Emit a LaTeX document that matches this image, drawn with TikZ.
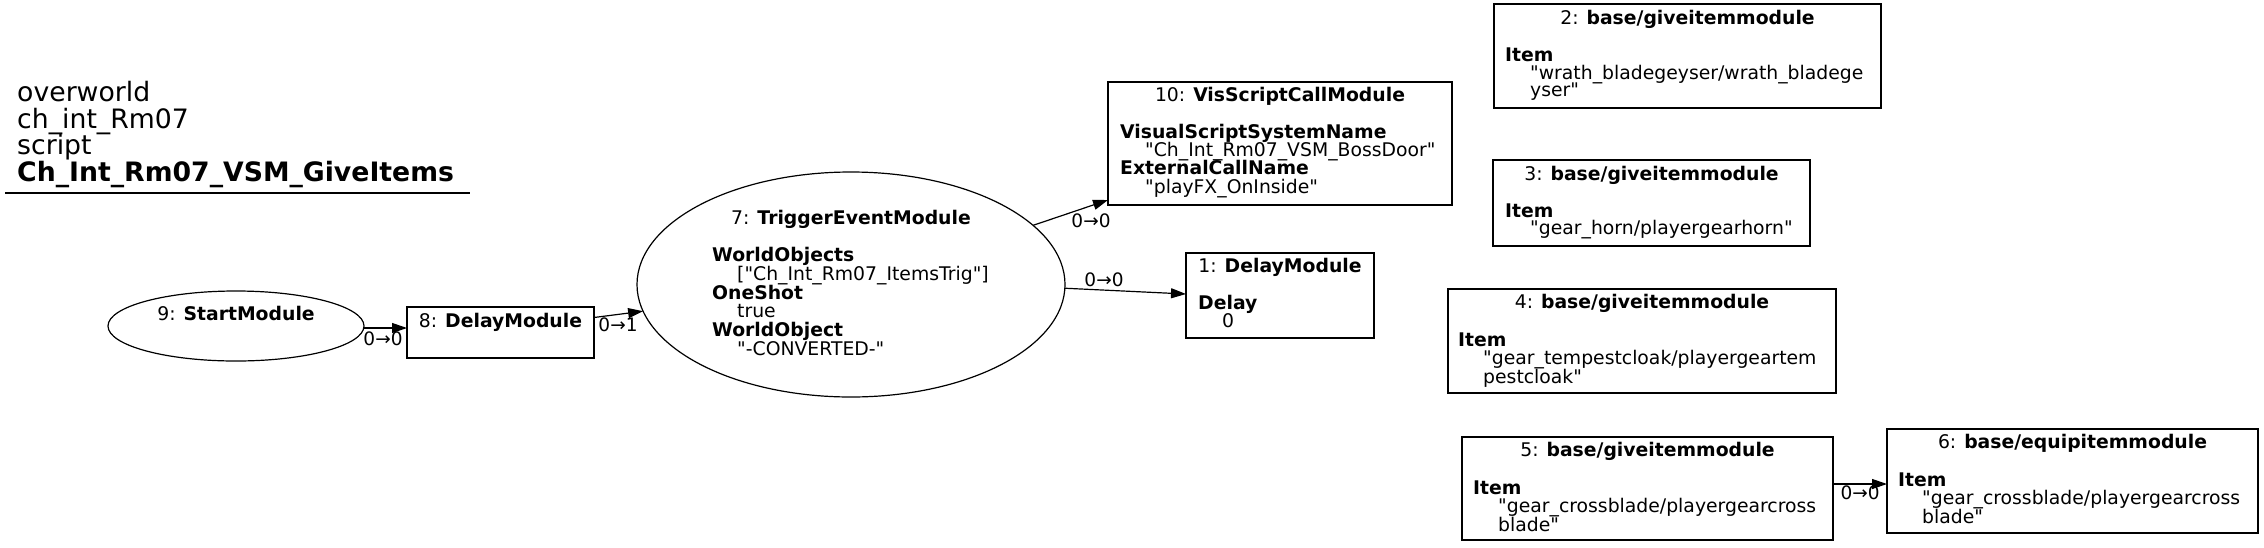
\documentclass[tikz,border=0pt]{standalone}
\usepackage{fontspec}
\setmainfont{DejaVu Sans}[Ligatures=TeXOff]
\usetikzlibrary{shapes.geometric,arrows.meta}
\begin{document}
\begin{tikzpicture}[x=1pt,y=-1pt,
 box/.style={draw, rectangle, inner sep=0, outer sep=0, line width=1.2pt},
 ell/.style={draw, ellipse, inner sep=0, outer sep=0, line width=1.2pt},
 tl/.style={inner sep=0, anchor=base west, font=\fontsize{18.8}{18.8}\selectfont},
 tc/.style={inner sep=0, anchor=base, font=\fontsize{18.8}{18.8}\selectfont},
 lbl/.style={inner sep=0, font=\fontsize{18.5}{18.5}\selectfont},
 edgearrow/.style={line width=1.2pt, -{Triangle[length=15pt,width=10pt]}},
 ttl/.style={inner sep=0, anchor=base west, font=\fontsize{26.7}{26.7}\selectfont}]
\useasboundingbox (0,0) rectangle (2264,547);

% title
\node[ttl] (g1) at (17,101.5) {overworld};
\node[ttl] (g2) at (17,128.2) {ch\_int\_Rm07};
\node[ttl] (g3) at (17,154.9) {script};
\node[ttl] (g4) at (17,181.6) {\textbf{Ch\_Int\_Rm07\_VSM\_GiveItems}};
\coordinate (ua) at (5,193);
\coordinate (ub) at (470,193);
\draw[line width=1.3pt] (ua) -- (ub);

% node 9
\node[ell, minimum width=256pt, minimum height=70pt] (n9) at (236,326) {};
\node[tc] (t9) at (236,320.5) {9: \textbf{StartModule}};

% node 8
\node[box, minimum width=187pt, minimum height=51pt] (n8) at (500.5,332.5) {};
\node[tc] (t8) at (500.5,327.5) {8: \textbf{DelayModule}};

% node 7
\node[ell, minimum width=428pt, minimum height=225pt] (n7) at (851,284.5) {};
\node[tc] (t7) at (851,224.5) {7: \textbf{TriggerEventModule}};
\node[tl] (t7a) at (712,261.5) {\textbf{WorldObjects}};
\node[tl] (t7b) at (737,280.5) {["Ch\_Int\_Rm07\_ItemsTrig"]};
\node[tl] (t7c) at (712,299.5) {\textbf{OneShot}};
\node[tl] (t7d) at (737,317.5) {true};
\node[tl] (t7e) at (712,336.5) {\textbf{WorldObject}};
\node[tl] (t7f) at (737,355.5) {"-CONVERTED-"};

% node 10
\node[box, minimum width=344pt, minimum height=123pt] (n10) at (1280,143.5) {};
\node[tc] (t10) at (1280,101.5) {10: \textbf{VisScriptCallModule}};
\node[tl] (t10a) at (1120,138.5) {\textbf{VisualScriptSystemName}};
\node[tl] (t10b) at (1145,156.5) {"Ch\_Int\_Rm07\_VSM\_BossDoor"};
\node[tl] (t10c) at (1120,174.5) {\textbf{ExternalCallName}};
\node[tl] (t10d) at (1145,193.5) {"playFX\_OnInside"};

% node 1
\node[box, minimum width=188pt, minimum height=85pt] (n1) at (1280,295.5) {};
\node[tc] (t1) at (1280,272.5) {1: \textbf{DelayModule}};
\node[tl] (t1a) at (1198,309.5) {\textbf{Delay}};
\node[tl] (t1b) at (1222,327.5) {0};

% node 2
\node[box, minimum width=387pt, minimum height=104pt] (n2) at (1687.5,56) {};
\node[tc] (t2) at (1687.5,24.5) {2: \textbf{base/giveitemmodule}};
\node[tl] (t2a) at (1505,61.5) {\textbf{Item}};
\node[tl] (t2b) at (1530,79.5) {"wrath\_bladegeyser/wrath\_bladege};
\node[tl] (t2c) at (1530,96.5) {yser"};

% node 3
\node[box, minimum width=317pt, minimum height=86pt] (n3) at (1651.5,203) {};
\node[tc] (t3) at (1651.5,180.5) {3: \textbf{base/giveitemmodule}};
\node[tl] (t3a) at (1505,217.5) {\textbf{Item}};
\node[tl] (t3b) at (1530,234.5) {"gear\_horn/playergearhorn"};

% node 4
\node[box, minimum width=388pt, minimum height=104pt] (n4) at (1642,341) {};
\node[tc] (t4) at (1642,308.5) {4: \textbf{base/giveitemmodule}};
\node[tl] (t4a) at (1458,346.5) {\textbf{Item}};
\node[tl] (t4b) at (1483,364.5) {"gear\_tempestcloak/playergeartem};
\node[tl] (t4c) at (1483,383.5) {pestcloak"};

% node 5
\node[box, minimum width=371pt, minimum height=103pt] (n5) at (1647.5,488.5) {};
\node[tc] (t5) at (1647.5,456.5) {5: \textbf{base/giveitemmodule}};
\node[tl] (t5a) at (1473,494.5) {\textbf{Item}};
\node[tl] (t5b) at (1498,512.5) {"gear\_crossblade/playergearcross};
\node[tl] (t5c) at (1498,531.5) {blade"};

% node 6
\node[box, minimum width=371pt, minimum height=104pt] (n6) at (2072.5,481) {};
\node[tc] (t6) at (2072.5,448.5) {6: \textbf{base/equipitemmodule}};
\node[tl] (t6a) at (1898,486.5) {\textbf{Item}};
\node[tl] (t6b) at (1922,504.5) {"gear\_crossblade/playergearcross};
\node[tl] (t6c) at (1922,523.5) {blade"};

% edges
\draw[edgearrow] ([yshift=-2pt]n9.east) -- ([yshift=4.5pt]n8.west);
\draw[edgearrow] ([yshift=15pt]n8.east) -- (n7);
\draw[edgearrow] (n7.18) -- ([yshift=5pt]n10.south west);
\draw[edgearrow] (n7.-1.5) -- ([yshift=1.5pt]n1.west);
\draw[edgearrow] ([yshift=4.5pt]n5.east) -- ([yshift=-3pt]n6.west);

% edge labels
\node[lbl] (l98) at (383,339) {0→0};
\node[lbl] (l87) at (618,325) {0→1};
\node[lbl] (l710) at (1091,221) {0→0};
\node[lbl] (l71) at (1104,280) {0→0};
\node[lbl] (l56) at (1860,493) {0→0};
\end{tikzpicture}
\end{document}
